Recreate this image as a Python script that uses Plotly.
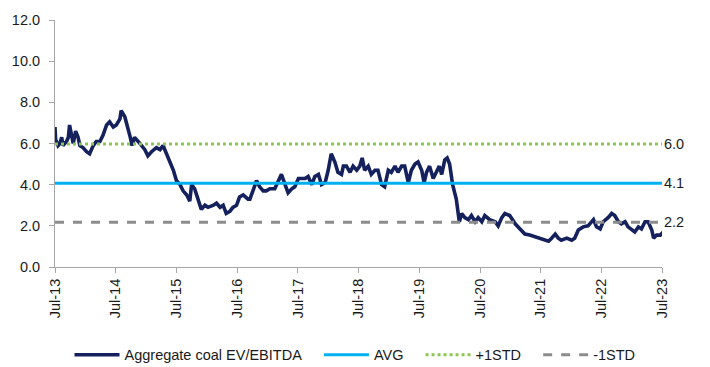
import pandas as pd
import plotly.graph_objects as go

# Decimal-year positions and values
years = [
    2013.50, 2013.51, 2013.55, 2013.58, 2013.61, 2013.63, 2013.69, 2013.72, 2013.74, 2013.77,
    2013.80, 2013.84, 2013.88, 2013.91, 2013.96, 2014.02, 2014.07, 2014.13, 2014.18, 2014.24,
    2014.29, 2014.35, 2014.40, 2014.46, 2014.51, 2014.57, 2014.59, 2014.65, 2014.70, 2014.74,
    2014.77, 2014.81, 2014.87, 2014.92, 2014.98, 2015.03, 2015.09, 2015.17, 2015.23, 2015.28,
    2015.34, 2015.39, 2015.45, 2015.50, 2015.56, 2015.61, 2015.67, 2015.72, 2015.75, 2015.80,
    2015.86, 2015.91, 2015.97, 2016.02, 2016.11, 2016.16, 2016.22, 2016.27, 2016.32, 2016.38,
    2016.43, 2016.49, 2016.54, 2016.60, 2016.68,
    2016.71, 2016.76, 2016.82, 2016.87, 2016.93, 2016.98, 2017.04, 2017.12, 2017.18, 2017.23,
    2017.29, 2017.34, 2017.40, 2017.45, 2017.51, 2017.56, 2017.62, 2017.67, 2017.73, 2017.78,
    2017.84, 2017.89, 2017.95, 2018.00, 2018.05, 2018.11, 2018.16, 2018.22, 2018.25, 2018.30,
    2018.36, 2018.41, 2018.47, 2018.52, 2018.56, 2018.60, 2018.66, 2018.71, 2018.77, 2018.82,
    2018.88, 2018.93, 2018.99, 2019.04, 2019.10, 2019.15, 2019.21, 2019.26, 2019.32, 2019.37,
    2019.43, 2019.48, 2019.54, 2019.58, 2019.62, 2019.67, 2019.73, 2019.78, 2019.83, 2019.87,
    2019.92, 2019.96, 2020.00, 2020.05, 2020.11, 2020.16, 2020.20, 2020.25, 2020.31, 2020.36,
    2020.42, 2020.47,
    2020.53, 2020.58, 2020.66, 2020.75, 2020.80, 2020.86, 2020.91, 2020.99, 2021.08, 2021.16,
    2021.24, 2021.32, 2021.41, 2021.49, 2021.57, 2021.63, 2021.68, 2021.74, 2021.79, 2021.84,
    2021.93, 2022.01, 2022.06, 2022.12, 2022.20, 2022.28, 2022.37, 2022.42, 2022.48, 2022.53,
    2022.61, 2022.67, 2022.72, 2022.78, 2022.83, 2022.89, 2022.94, 2023.00, 2023.05, 2023.11,
    2023.16, 2023.22, 2023.27, 2023.33, 2023.36, 2023.41, 2023.47, 2023.52,
]
ev_ebitda = [
    6.8, 6.2, 5.9, 6.0, 6.3, 5.9, 6.1, 6.3, 6.9, 6.5,
    6.0, 6.6, 6.3, 5.9, 5.8, 5.6, 5.5, 5.9, 6.1, 6.1,
    6.4, 6.9, 7.05, 6.8, 6.9, 7.2, 7.6, 7.3, 6.8, 6.3,
    5.9, 6.3, 6.1, 5.9, 5.7, 5.4, 5.6, 5.8, 5.7, 5.9,
    5.5, 5.1, 4.7, 4.2, 4.0, 3.7, 3.5, 3.2, 4.0, 3.8,
    3.3, 2.8, 3.0, 2.9, 3.0, 3.1, 2.9, 3.0, 2.6, 2.7,
    2.9, 3.0, 3.4, 3.5, 3.3,
    3.3, 3.7, 4.2, 3.9, 3.7, 3.7, 3.8, 3.8, 4.2, 4.5,
    4.0, 3.6, 3.8, 3.9, 4.3, 4.3, 4.3, 4.4, 4.0, 4.4,
    4.5, 4.0, 4.1, 4.7, 5.5, 5.1, 4.6, 4.5, 4.9, 4.9,
    4.6, 4.9, 4.7, 4.9, 5.3, 4.7, 4.9, 4.5, 4.7, 4.7,
    4.0, 3.9, 4.7, 4.6, 4.9, 4.6, 4.9, 4.9, 4.1, 4.7,
    5.0, 5.1, 4.7, 4.1, 4.6, 4.9, 4.3, 4.6, 4.9, 4.5,
    5.2, 5.3, 5.0, 4.0, 3.3, 2.2, 2.6, 2.4, 2.3, 2.5,
    2.2, 2.4,
    2.2, 2.5, 2.3, 2.2, 2.0, 2.4, 2.6, 2.5, 2.1, 1.85,
    1.6, 1.55, 1.45, 1.4, 1.3, 1.25, 1.4, 1.6, 1.4, 1.3,
    1.4, 1.3, 1.4, 1.8, 1.95, 2.0, 2.3, 1.95, 1.85, 2.2,
    2.4, 2.6, 2.5, 2.2, 2.1, 2.2, 1.95, 1.8, 1.7, 1.95,
    1.85, 2.2, 2.2, 1.8, 1.4, 1.55, 1.55, 1.7,
]
avg_value = 4.07
plus_std_value = 5.97
minus_std_value = 2.17

series_names = ["Aggregate coal EV/EBITDA", "AVG", "+1STD", "-1STD"]
y_ticks = [0, 2, 4, 6, 8, 10, 12]
x_start, x_end = "2013-07-01", "2023-07-01"

base = pd.Timestamp("2013-07-01")
dates = [base + pd.Timedelta(days=(y - 2013.5) * 365.25) for y in years]
band_x = [pd.Timestamp(x_start), pd.Timestamp(x_end)]

FONT = "Liberation Sans, Arial, sans-serif"
FS = 14.5
TXT = "#1a1a1a"
AX = "#a6a6a6"
PAD = "\u00a0\u00a0\u00a0"  # extra spacing between legend entries

fig = go.Figure()
fig.add_trace(go.Scatter(x=dates, y=ev_ebitda, mode="lines", name=series_names[0] + PAD,
                         line=dict(color="#14215c", width=3.6)))
fig.add_trace(go.Scatter(x=band_x, y=[avg_value] * 2, mode="lines", name=series_names[1] + PAD,
                         line=dict(color="#00b0f0", width=3)))
fig.add_trace(go.Scatter(x=band_x, y=[plus_std_value] * 2, mode="lines", name=series_names[2] + PAD,
                         line=dict(color="#8cc850", width=3, dash="dot")))
fig.add_trace(go.Scatter(x=band_x, y=[minus_std_value] * 2, mode="lines", name=series_names[3],
                         line=dict(color="#8c8c8c", width=3, dash="dash")))

for v in [plus_std_value, avg_value, minus_std_value]:
    fig.add_annotation(x=x_end, y=v, xref="x", yref="y", text=f"{v:.1f}",
                       showarrow=False, xanchor="left", yanchor="middle", xshift=0,
                       font=dict(family=FONT, size=FS, color=TXT))

fig.update_layout(
    width=710, height=367,
    margin=dict(l=55, r=48, t=18, b=100),
    paper_bgcolor="white", plot_bgcolor="white",
    font=dict(family=FONT, size=FS, color=TXT),
    showlegend=True,
    legend=dict(orientation="h", xref="container", yref="container",
                x=0.5, y=0.033, xanchor="center", yanchor="middle",
                font=dict(family=FONT, size=FS, color=TXT),
                itemwidth=45, tracegroupgap=0),
)
fig.update_xaxes(range=[x_start, x_end], tick0=x_start, dtick="M12", tickformat="%b-%y",
                 tickangle=-90, showgrid=False, zeroline=False,
                 showline=True, linecolor=AX, linewidth=1,
                 ticks="outside", ticklen=5, tickcolor=AX,
                 tickfont=dict(family=FONT, size=FS, color=TXT))
fig.update_yaxes(range=[0, 12], tickvals=y_ticks, tickformat=".1f",
                 showgrid=False, zeroline=False,
                 showline=True, linecolor=AX, linewidth=1,
                 ticks="outside", ticklen=5, tickcolor=AX, ticklabelstandoff=6,
                 tickfont=dict(family=FONT, size=FS, color=TXT))

fig.write_html("out.html")
